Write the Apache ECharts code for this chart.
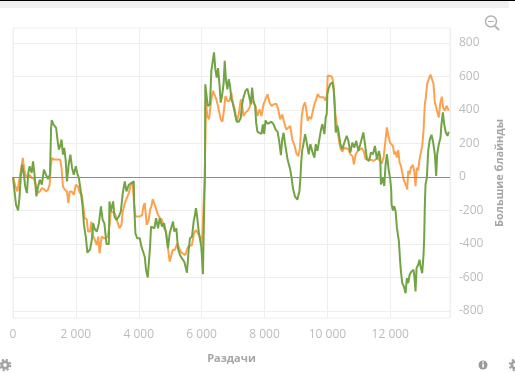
<!DOCTYPE html>
<html>
<head>
<meta charset="utf-8">
<style>
  html, body { margin: 0; padding: 0; background: #fff; }
  #chart { width: 515px; height: 373px; }
</style>
<script src="https://cdn.jsdelivr.net/npm/echarts@6/dist/echarts.min.js"></script>
</head>
<body>
<div id="chart"></div>
<script>
// [раздачи, большие блайнды]
const greenLine = [
  [0,0],[22,-6],[43,-76],[97,-166],[162,-200],[205,-126],[248,4],[292,74],[346,14],[389,-56],[443,-96],[486,24],[529,64],[594,24],[637,94],[680,24],[745,-116],[788,-66],[853,-16],[918,-46],[983,44],[1048,14],[1112,-12],[1177,14],[1210,284],[1231,340],[1285,314],[1328,324],[1372,294],[1415,224],[1458,164],[1501,184],[1544,224],[1588,134],[1631,174],[1674,104],[1717,-26],[1771,74],[1825,134],[1879,54],[1933,14],[1998,64],[2041,24],[2095,-6],[2149,-76],[2214,-176],[2257,-286],[2322,-366],[2365,-452],[2452,-432],[2506,-376],[2549,-276],[2603,-312],[2668,-326],[2732,-276],[2797,-176],[2851,-256],[2905,-276],[2942,-276],[2974,-400],[3048,-400],[3069,-146],[3111,-206],[3185,-146],[3228,-236],[3291,-256],[3365,-236],[3429,-206],[3492,-96],[3556,-26],[3609,-86],[3683,-46],[3735,-36],[3841,-26],[3852,-156],[3894,-336],[3947,-366],[4032,-366],[4085,-416],[4138,-416],[4190,-476],[4233,-556],[4286,-600],[4328,-600],[4360,-416],[4391,-296],[4444,-286],[4497,-306],[4550,-246],[4614,-306],[4667,-246],[4741,-296],[4804,-276],[4868,-336],[4931,-426],[4984,-336],[5037,-336],[5090,-266],[5132,-326],[5196,-306],[5248,-426],[5312,-466],[5375,-486],[5449,-506],[5534,-572],[5587,-436],[5629,-366],[5693,-356],[5746,-266],[5778,-236],[5820,-186],[5862,-246],[5915,-336],[5989,-416],[6042,-580],[6063,-356],[6084,-156],[6105,4],[6117,554],[6149,558],[6170,464],[6202,424],[6266,434],[6309,634],[6351,644],[6394,744],[6436,644],[6479,594],[6521,650],[6564,564],[6606,444],[6649,484],[6702,564],[6734,694],[6777,574],[6819,524],[6862,584],[6904,544],[6947,464],[6989,444],[7032,404],[7075,364],[7117,330],[7181,330],[7245,354],[7287,434],[7330,474],[7394,514],[7458,528],[7521,530],[7564,434],[7606,534],[7649,454],[7702,424],[7734,324],[7777,270],[7841,264],[7905,258],[7947,314],[7990,258],[8032,338],[8096,318],[8160,324],[8224,330],[8288,314],[8351,284],[8415,270],[8468,214],[8521,130],[8564,224],[8606,264],[8649,204],[8692,154],[8734,104],[8777,94],[8819,44],[8862,-6],[8904,-66],[8968,-116],[9043,-136],[9111,-84],[9143,-4],[9164,76],[9196,156],[9238,196],[9291,256],[9323,226],[9365,216],[9407,136],[9460,196],[9503,186],[9545,136],[9587,116],[9630,196],[9683,156],[9735,146],[9799,286],[9841,316],[9905,256],[9947,356],[9979,376],[10000,496],[10032,526],[10095,556],[10159,566],[10201,526],[10233,416],[10265,266],[10317,306],[10360,266],[10413,196],[10476,166],[10540,206],[10614,246],[10667,216],[10730,146],[10794,206],[10857,176],[10920,216],[10984,156],[11047,196],[11143,266],[11196,196],[11259,106],[11323,96],[11386,146],[11450,136],[11513,186],[11576,106],[11640,156],[11682,116],[11703,-44],[11756,-4],[11809,-54],[11851,76],[11894,136],[11947,46],[12000,-14],[12032,-84],[12042,-164],[12085,-200],[12127,-174],[12169,-204],[12212,-304],[12254,-294],[12275,-384],[12307,-484],[12339,-564],[12381,-634],[12434,-654],[12487,-694],[12529,-604],[12571,-634],[12614,-584],[12677,-564],[12741,-554],[12772,-604],[12804,-684],[12836,-544],[12889,-524],[12931,-494],[12973,-544],[13016,-574],[13058,-464],[13079,-364],[13100,-164],[13122,-44],[13164,-4],[13206,156],[13259,226],[13312,252],[13365,206],[13418,136],[13460,6],[13492,136],[13545,196],[13598,236],[13629,316],[13672,386],[13714,316],[13767,266],[13820,246],[13860,270]
]
const orangeLine = [
  [0,0],[22,4],[76,-56],[140,-86],[184,-76],[227,14],[270,64],[313,114],[356,44],[400,14],[464,-6],[529,14],[594,-6],[659,-6],[724,-46],[788,-96],[853,-86],[918,-66],[983,-72],[1048,-86],[1112,-76],[1166,-46],[1199,64],[1242,114],[1307,104],[1372,104],[1436,104],[1501,104],[1544,54],[1588,-56],[1652,-76],[1717,-86],[1760,-156],[1804,-86],[1868,-86],[1933,-106],[1998,-46],[2063,-56],[2128,-96],[2192,-106],[2236,-176],[2279,-246],[2344,-252],[2387,-326],[2452,-326],[2495,-266],[2549,-352],[2603,-352],[2668,-406],[2711,-356],[2754,-456],[2819,-356],[2905,-366],[3013,-356],[3078,-276],[3111,-206],[3154,-206],[3238,-216],[3302,-256],[3386,-306],[3450,-286],[3492,-206],[3556,-156],[3619,-146],[3683,-96],[3746,-46],[3810,-46],[3852,-156],[3894,-236],[3958,-236],[4042,-236],[4106,-226],[4148,-176],[4190,-156],[4254,-286],[4317,-256],[4360,-196],[4402,-176],[4444,-132],[4508,-166],[4550,-176],[4614,-226],[4677,-246],[4741,-256],[4804,-306],[4868,-326],[4931,-426],[4984,-506],[5037,-512],[5079,-436],[5143,-436],[5185,-446],[5227,-396],[5270,-406],[5333,-446],[5397,-456],[5481,-466],[5566,-416],[5629,-406],[5693,-406],[5756,-336],[5820,-316],[5883,-316],[5947,-356],[6000,-406],[6032,-316],[6063,-156],[6095,-16],[6110,134],[6138,454],[6181,364],[6234,344],[6277,334],[6309,464],[6362,514],[6415,504],[6468,464],[6521,424],[6564,384],[6606,344],[6660,330],[6713,404],[6755,484],[6819,454],[6883,454],[6947,504],[6989,444],[7053,404],[7117,334],[7181,374],[7245,464],[7287,434],[7330,364],[7394,384],[7458,394],[7521,414],[7585,454],[7649,444],[7713,424],[7777,364],[7841,404],[7905,364],[7968,434],[8032,464],[8096,494],[8160,444],[8224,424],[8288,434],[8373,438],[8437,404],[8500,344],[8564,374],[8628,324],[8692,284],[8756,294],[8820,304],[8883,224],[8947,194],[9011,144],[9075,124],[9122,166],[9154,256],[9185,366],[9238,426],[9291,446],[9333,396],[9376,336],[9418,360],[9482,346],[9545,356],[9587,436],[9630,456],[9693,496],[9757,476],[9820,476],[9884,476],[9947,456],[9989,496],[10011,606],[10074,600],[10138,600],[10180,576],[10222,476],[10254,376],[10296,316],[10328,266],[10370,216],[10423,166],[10476,152],[10540,176],[10603,172],[10667,166],[10730,136],[10794,126],[10846,76],[10899,136],[10963,156],[11026,166],[11090,172],[11153,156],[11217,106],[11280,96],[11344,106],[11407,116],[11471,96],[11534,96],[11598,116],[11661,126],[11725,80],[11788,116],[11852,226],[11894,296],[11936,250],[11989,206],[12042,200],[12085,186],[12127,136],[12169,152],[12212,116],[12254,160],[12296,86],[12339,66],[12381,26],[12423,-14],[12466,-4],[12508,-54],[12540,-74],[12571,36],[12614,16],[12656,56],[12719,72],[12762,36],[12804,-54],[12846,56],[12889,40],[12931,106],[12973,116],[13016,186],[13058,276],[13100,436],[13132,476],[13174,556],[13227,586],[13280,612],[13333,612],[13375,556],[13418,446],[13460,416],[13502,386],[13545,356],[13587,436],[13640,480],[13682,416],[13735,396],[13788,426],[13841,436],[13860,396]
]
const yTicks = [-800, -600, -400, -200, 0, 200, 400, 600, 800]

const myChart = echarts.init(document.getElementById('chart'))
const gray = '#bcbcbc'
const fontName = '"Open Sans", sans-serif'

const gear = (cx, cy) => [
  { type: 'circle', shape: { cx: cx, cy: cy, r: 3.2 }, style: { fill: 'none', stroke: '#a0a0a0', lineWidth: 2.6 } },
  { type: 'circle', shape: { cx: cx, cy: cy, r: 5.3 }, style: { fill: 'none', stroke: '#a0a0a0', lineWidth: 2, lineDash: [2.1, 2.1] } }
]

const option = {
  animation: false,
  backgroundColor: '#fff',
  grid: { left: 13, right: 65, top: 28, bottom: 55, show: true, borderColor: '#eeeeee', borderWidth: 1 },
  xAxis: {
    type: 'value',
    min: 0,
    max: 13900,
    interval: 2000,
    name: 'Раздачи',
    nameLocation: 'middle',
    nameGap: 33,
    nameTextStyle: { color: '#a6a6a6', fontWeight: 'bold', fontSize: 11, fontFamily: fontName, padding: [2, 0, 0, 0] },
    axisLine: { show: false },
    axisTick: { show: true, length: 4, lineStyle: { color: '#eeeeee' } },
    axisLabel: {
      color: gray, fontSize: 12, fontFamily: fontName, margin: 11, showMaxLabel: false,
      formatter: v => String(v).replace(/\B(?=(\d{3})+$)/g, ' ')
    },
    splitLine: { lineStyle: { color: '#eeeeee' } }
  },
  yAxis: {
    type: 'value',
    position: 'right',
    min: -842,
    max: 890,
    name: 'Большие блайнды',
    nameLocation: 'middle',
    nameRotate: 90,
    nameGap: 35,
    nameTextStyle: { color: '#a6a6a6', fontWeight: 'bold', fontSize: 11, fontFamily: fontName },
    axisLine: { show: false },
    axisTick: { show: true, length: 7, customValues: yTicks, lineStyle: { color: '#eeeeee' } },
    axisLabel: { color: gray, fontSize: 12, fontFamily: fontName, margin: 9, customValues: yTicks, padding: [2, 0, 0, 0] },
    splitLine: { lineStyle: { color: '#eeeeee' } }
  },
  series: [
    {
      type: 'line',
      data: orangeLine,
      showSymbol: false,
      silent: true,
      lineStyle: { color: '#fca24f', width: 2 },
      markLine: {
        silent: true,
        symbol: 'none',
        label: { show: false },
        lineStyle: { color: '#8c8c8c', width: 1, type: 'solid' },
        data: [{ yAxis: 0 }]
      }
    },
    {
      type: 'line',
      data: greenLine,
      showSymbol: false,
      silent: true,
      lineStyle: { color: '#72a344', width: 2 }
    }
  ],
  graphic: [
    // полоса сверху
    { type: 'rect', shape: { x: 0, y: 0, width: 509, height: 8 }, style: { fill: '#f0f0f0' } },
    { type: 'rect', shape: { x: 0, y: 0, width: 515, height: 1 }, style: { fill: '#000' } },
    // лупа
    { type: 'circle', shape: { cx: 491, cy: 21.5, r: 5.5 }, style: { fill: 'none', stroke: '#b4b4b4', lineWidth: 1.5 } },
    { type: 'line', shape: { x1: 495, y1: 26, x2: 499, y2: 30 }, style: { stroke: '#b4b4b4', lineWidth: 2 } },
    { type: 'line', shape: { x1: 488, y1: 21.5, x2: 494, y2: 21.5 }, style: { stroke: '#b4b4b4', lineWidth: 1 } },
    // шестерёнки и инфо
    ...gear(5, 365),
    ...gear(515, 365),
    { type: 'circle', shape: { cx: 483, cy: 365, r: 4.5 }, style: { fill: '#9a9a9a' } },
    { type: 'rect', shape: { x: 482.3, y: 363.5, width: 1.6, height: 4 }, style: { fill: '#fff' } },
    { type: 'rect', shape: { x: 482.3, y: 361.5, width: 1.6, height: 1.3 }, style: { fill: '#fff' } }
  ]
}

myChart.setOption(option)
</script>
</body>
</html>
